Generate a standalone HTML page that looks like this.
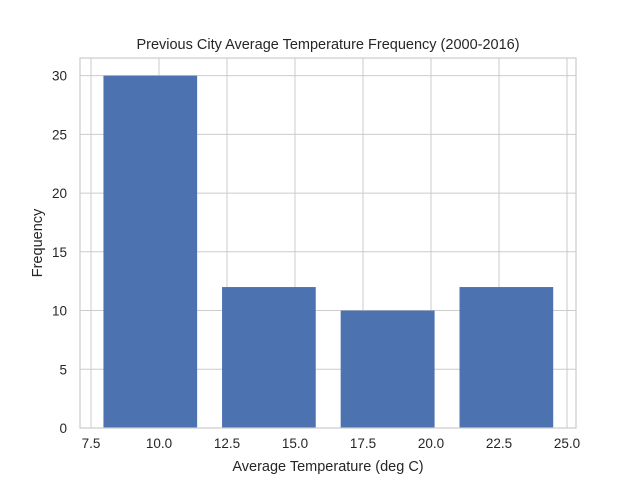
<!DOCTYPE html>
<html><head><meta charset="utf-8"><style>
body{margin:0;background:#fff;}
svg text{font-family:"Liberation Sans","DejaVu Sans",sans-serif;fill:#262626;}
</style></head><body>
<svg width="640" height="480" xmlns="http://www.w3.org/2000/svg">
<rect width="640" height="480" fill="#fff"/>
<g id="grid"></g>
<g id="bars"></g>
<rect x="80" y="58" width="496" height="370" fill="none" stroke="#cccccc" stroke-width="1.2"/>
<g id="ticks"></g>
<text x="328" y="49" font-size="14.5" text-anchor="middle">Previous City Average Temperature Frequency (2000-2016)</text>
<text x="328" y="471" font-size="14.5" text-anchor="middle">Average Temperature (deg C)</text>
<text transform="translate(42,243) rotate(-90)" font-size="14.5" text-anchor="middle">Frequency</text>
</svg>
<script>
const binEdges=[7.5,11.86,16.22,20.59,24.95];
const counts=[30,12,10,12];
const xTicks=[7.5,10.0,12.5,15.0,17.5,20.0,22.5,25.0];
const yTicks=[0,5,10,15,20,25,30];
const NS="http://www.w3.org/2000/svg";
const X0=80,X1=576,Y0=428,Y1=58,xmin=7.096,xmax=25.33,ymin=0,ymax=31.5;
function sx(v){return X0+(v-xmin)/(xmax-xmin)*(X1-X0);}
function sy(v){return Y0-(v-ymin)/(ymax-ymin)*(Y0-Y1);}
function mk(t,a,p){const e=document.createElementNS(NS,t);for(const k in a)e.setAttribute(k,a[k]);p.appendChild(e);return e;}
const grid=document.getElementById('grid'),bars=document.getElementById('bars'),ticks=document.getElementById('ticks');
xTicks.forEach(v=>{
 const l=mk('line',{x1:sx(v),x2:sx(v),y1:Y1,y2:Y0,stroke:'#cccccc','stroke-width':1},grid);
 
 
 const t=mk('text',{x:sx(v),y:Y0+20,'font-size':13.5,'text-anchor':'middle'},ticks);
 t.textContent=v.toFixed(1);
 
 
});
yTicks.forEach(v=>{
 const l=mk('line',{x1:X0,x2:X1,y1:sy(v),y2:sy(v),stroke:'#cccccc','stroke-width':1},grid);
 
 
 const t=mk('text',{x:X0-13,y:sy(v)+5,'font-size':13.5,'text-anchor':'end'},ticks);
 t.textContent=v;
 
 
});
counts.forEach((c,i)=>{
 const w=binEdges[i+1]-binEdges[i];
 const a=binEdges[i]+0.105*w,b=binEdges[i+1]-0.105*w;
 const r=mk('rect',{x:sx(a),y:sy(c),width:sx(b)-sx(a),height:sy(0)-sy(c),fill:'#4c72b0'},bars);
 
 
});
</script>
</body></html>
